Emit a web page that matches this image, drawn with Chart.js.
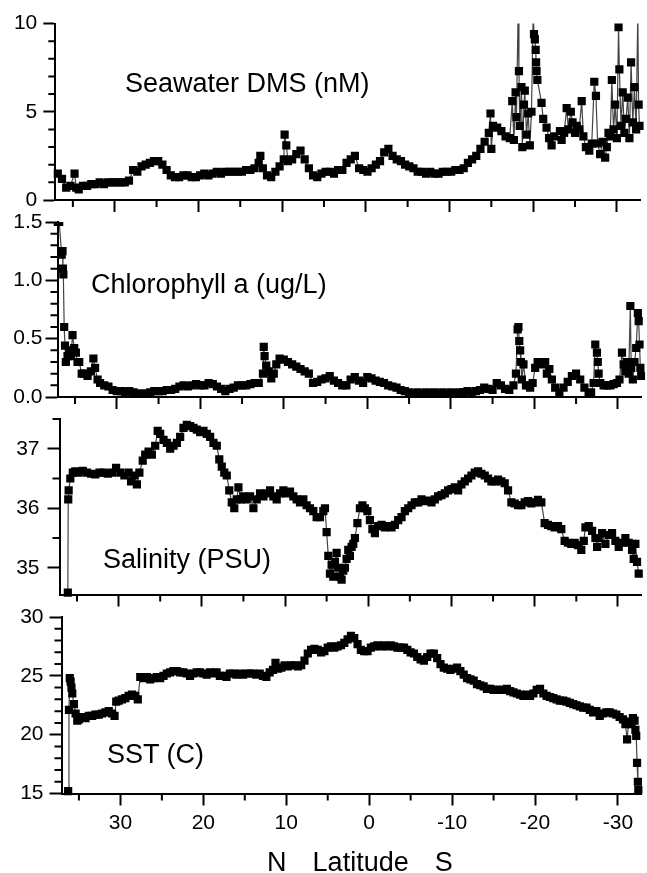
<!DOCTYPE html>
<html lang="en">
<head>
<meta charset="UTF-8">
<title>Seawater DMS, Chlorophyll a, Salinity and SST vs Latitude</title>
<style>
  body { margin: 0; background: #fff; overflow: hidden; }
  .wrap { position: relative; width: 647px; height: 873px; }
  .wrap canvas { position: absolute; left: 0; top: 0; }
  .label {
    position: absolute;
    font-family: 'Liberation Sans', Arial, sans-serif;
    font-size: 27px;
    line-height: 27px;
    color: #000;
    white-space: pre;
  }
</style>
</head>
<body>
<div class="wrap">
  <canvas id="dmsChart" width="647" height="873"></canvas>
  <canvas id="chlChart" width="647" height="873"></canvas>
  <canvas id="salChart" width="647" height="873"></canvas>
  <canvas id="sstChart" width="647" height="873"></canvas>
  <div class="label" style="left:125px; top:70px;">Seawater DMS (nM)</div>
  <div class="label" style="left:91px; top:271px;">Chlorophyll a (ug/L)</div>
  <div class="label" style="left:103px; top:546px;">Salinity (PSU)</div>
  <div class="label" style="left:107px; top:741px;">SST (C)</div>
  <div class="label" style="left:267px; top:849px; word-spacing:1.2px;">N   Latitude   S</div>
</div>

<script src="https://cdn.jsdelivr.net/npm/chart.js"></script>
<script>
    // latitude axis (N positive, S negative)
    const latMin = -32.8;
    const latMax = 37.1;
    const latTicks = [30, 20, 10, 0, -10, -20, -30];

    // Seawater DMS (nM)
    const dmsLat = [
        36.8, 36.3, 35.8, 35.3, 34.8, 34.6, 34.3, 33.8, 33.3, 32.8,
        32.3, 31.8, 31.3, 30.8, 30.3, 29.8, 29.3, 28.8, 28.3, 27.8,
        27.3, 26.8, 26.3, 25.8, 25.3, 24.8, 24.3, 23.8, 23.3, 22.8,
        22.3, 21.8, 21.3, 20.8, 20.3, 19.8, 19.3, 18.8, 18.3, 17.8,
        17.3, 16.8, 16.3, 15.8, 15.3, 14.8, 14.3, 13.8, 13.3, 12.8,
        12.6, 12.3, 11.8, 11.3, 10.8, 10.3, 9.8, 9.7, 9.5, 9.3,
        8.8, 8.3, 7.8, 7.3, 6.8, 6.3, 5.8, 5.3, 4.8, 4.3,
        3.8, 3.3, 2.8, 2.3, 1.8, 1.3, 0.8, 0.3, -0.2, -0.7,
        -1.2, -1.7, -2.2, -2.7, -3.2, -3.7, -4.2, -4.7, -5.2, -5.7,
        -6.2, -6.7, -7.2, -7.7, -8.2, -8.7, -9.2, -9.7, -10.2, -10.7,
        -11.2, -11.7, -12.2, -12.7, -13.2, -13.7, -14.2, -14.7, -14.9, -15.0,
        -15.2, -15.7, -16.2, -16.7, -17.2, -17.5, -17.7, -17.9, -18.0, -18.2,
        -18.3, -18.4, -18.6, -18.7, -18.9, -19.0, -19.2, -19.4, -19.6, -19.8,
        -20.0, -20.1, -20.2, -20.3, -20.35, -20.4, -20.5, -21.0, -21.2, -21.6,
        -21.9, -22.2, -22.5, -23.2, -23.4, -23.7, -24.0, -24.2, -24.5, -24.7,
        -25.0, -25.2, -25.5, -25.8, -26.0, -26.3, -26.7, -27.0, -27.3, -27.5,
        -27.7, -28.0, -28.3, -28.6, -28.8, -29.0, -29.2, -29.4, -29.6, -29.8,
        -30.0, -30.2, -30.3, -30.5, -30.7, -30.9, -31.1, -31.3, -31.5, -31.7,
        -31.9, -32.1, -32.3, -32.5, -32.6, -32.7
    ];
    const dmsVal = [
        1.5, 1.2, 0.7, 0.8, 1.5, 0.7, 0.6, 0.8, 0.8, 0.9,
        0.9, 1.0, 0.9, 1.0, 1.0, 1.0, 1.0, 1.0, 1.1, 1.7,
        1.6, 1.9, 2.0, 2.1, 2.2, 2.2, 2.0, 1.7, 1.4, 1.3,
        1.3, 1.4, 1.4, 1.3, 1.3, 1.4, 1.5, 1.4, 1.5, 1.6,
        1.5, 1.6, 1.6, 1.6, 1.6, 1.6, 1.7, 1.7, 1.8, 2.1,
        2.5, 1.8, 1.4, 1.3, 1.6, 1.9, 2.3, 3.7, 3.1, 2.2,
        2.3, 2.6, 2.8, 2.3, 1.8, 1.4, 1.3, 1.5, 1.6, 1.6,
        1.5, 1.7, 1.7, 2.1, 2.3, 2.5, 1.8, 1.7, 1.6, 1.8,
        2.0, 2.2, 2.7, 2.9, 2.5, 2.3, 2.2, 2.0, 1.9, 1.8,
        1.6, 1.6, 1.5, 1.6, 1.5, 1.5, 1.6, 1.6, 1.6, 1.7,
        1.7, 1.8, 2.1, 2.3, 2.5, 2.9, 3.3, 3.8, 4.9, 2.9,
        4.2, 4.1, 3.9, 3.6, 3.5, 5.6, 3.4, 6.1, 4.7, 10.6,
        7.3, 4.2, 6.4, 3.0, 5.4, 6.2, 3.7, 4.9, 3.1, 5.0,
        10.6, 9.4, 9.1, 8.5, 7.8, 7.3, 6.8, 5.5, 4.6, 4.1,
        3.5, 3.1, 3.6, 3.9, 3.4, 3.8, 5.2, 4.0, 5.0, 4.4,
        3.8, 4.2, 4.0, 5.6, 3.6, 3.0, 2.8, 3.2, 6.7, 5.9,
        3.2, 2.6, 3.3, 2.4, 3.0, 3.8, 3.6, 6.8, 4.0, 5.4,
        3.5, 9.8, 7.4, 4.2, 6.1, 3.8, 4.6, 5.8, 3.5, 7.8,
        4.4, 6.4, 4.0, 10.6, 5.4, 4.2
    ];

    // Chlorophyll a (ug/L)
    const chlLat = [
        37.1, 36.9, 36.6, 36.5, 36.45, 36.4, 36.3, 36.2, 36.1, 35.9,
        35.7, 35.5, 35.3, 35.1, 34.9, 34.7, 34.5, 34.2, 33.9, 33.5,
        33.1, 32.8, 32.6, 32.3, 32.0, 31.5, 31.0, 30.5, 30.0, 29.5,
        29.0, 28.5, 28.0, 27.5, 27.0, 26.5, 26.0, 25.5, 25.0, 24.5,
        24.0, 23.5, 23.0, 22.5, 22.0, 21.5, 21.0, 20.5, 20.0, 19.5,
        19.0, 18.5, 18.0, 17.5, 17.0, 16.5, 16.0, 15.5, 15.0, 14.5,
        14.0, 13.5, 13.0, 12.5, 12.4, 12.3, 12.1, 11.8, 11.5, 11.2,
        10.9, 10.5, 10.0, 9.5, 9.0, 8.5, 8.0, 7.5, 7.0, 6.5,
        6.0, 5.5, 5.0, 4.5, 4.0, 3.5, 3.0, 2.5, 2.0, 1.5,
        1.0, 0.5, 0.0, -0.5, -1.0, -1.5, -2.0, -2.5, -3.0, -3.5,
        -4.0, -4.5, -5.0, -5.5, -6.0, -6.5, -7.0, -7.5, -8.0, -8.5,
        -9.0, -9.5, -10.0, -10.5, -11.0, -11.5, -12.0, -12.5, -13.0, -13.5,
        -14.0, -14.5, -15.0, -15.5, -16.0, -16.5, -17.0, -17.5, -17.8, -18.0,
        -18.1, -18.2, -18.3, -18.4, -18.5, -18.7, -19.0, -19.3, -19.5, -19.8,
        -20.1, -20.4, -20.7, -21.0, -21.3, -21.5, -21.8, -22.1, -22.5, -23.0,
        -23.5, -24.0, -24.5, -25.0, -25.5, -26.0, -26.5, -26.8, -27.1, -27.3,
        -27.5, -27.6, -27.7, -27.9, -28.3, -28.7, -29.1, -29.5, -29.9, -30.2,
        -30.5, -30.7, -30.9, -31.1, -31.3, -31.5, -31.6, -31.8, -32.0, -32.2,
        -32.4, -32.5, -32.6, -32.7, -32.8
    ];
    const chlVal = [
        1.5, 1.5, 1.22, 1.25, 1.1, 1.05, 0.6, 0.44, 0.3, 0.35,
        0.4, 0.35, 0.53, 0.42, 0.38, 0.3, 0.3, 0.2, 0.2, 0.18,
        0.22, 0.33, 0.25, 0.15, 0.12, 0.1, 0.09, 0.06, 0.05, 0.05,
        0.04, 0.05, 0.04, 0.03, 0.03, 0.03, 0.04, 0.05, 0.05, 0.05,
        0.06, 0.06, 0.07, 0.09, 0.1, 0.09, 0.1, 0.11, 0.1, 0.1,
        0.12, 0.11, 0.09, 0.07, 0.05, 0.07, 0.08, 0.1, 0.1, 0.1,
        0.11, 0.12, 0.12, 0.2, 0.43, 0.35, 0.27, 0.22, 0.16, 0.2,
        0.28, 0.33, 0.32, 0.3, 0.28, 0.26, 0.24, 0.22, 0.2, 0.12,
        0.13, 0.15, 0.16, 0.18, 0.14, 0.12, 0.1, 0.1, 0.15, 0.17,
        0.14, 0.12, 0.17, 0.16, 0.14, 0.13, 0.12, 0.1, 0.09, 0.08,
        0.06, 0.05, 0.04, 0.03, 0.04, 0.03, 0.04, 0.03, 0.04, 0.03,
        0.04, 0.03, 0.04, 0.03, 0.04, 0.04, 0.05, 0.04, 0.05, 0.06,
        0.08, 0.07, 0.06, 0.12, 0.1, 0.07, 0.06, 0.1, 0.2, 0.58,
        0.6, 0.48, 0.4, 0.3, 0.15, 0.28, 0.1, 0.1, 0.08, 0.12,
        0.25, 0.3, 0.3, 0.28, 0.3, 0.2, 0.24, 0.15, 0.08, 0.04,
        0.08, 0.13, 0.18, 0.2, 0.15, 0.08, 0.03, 0.04, 0.12, 0.45,
        0.38, 0.3, 0.2, 0.12, 0.1, 0.1, 0.1, 0.11, 0.12, 0.15,
        0.38, 0.28, 0.22, 0.3, 0.2, 0.78, 0.25, 0.15, 0.3, 0.42,
        0.72, 0.65, 0.45, 0.25, 0.18
    ];

    // Salinity (PSU)
    const salLat = [
        36.1, 36.05, 36.0, 35.8, 35.5, 35.2, 34.8, 34.3, 33.8, 33.3,
        32.8, 32.3, 31.8, 31.3, 30.8, 30.3, 29.8, 29.3, 28.8, 28.5,
        28.1, 27.8, 27.5, 27.1, 26.8, 26.4, 26.0, 25.6, 25.3, 25.0,
        24.6, 24.2, 23.8, 23.4, 23.0, 22.6, 22.2, 21.8, 21.4, 21.0,
        20.6, 20.2, 19.8, 19.4, 19.0, 18.6, 18.2, 17.9, 17.6, 17.3,
        17.0, 16.7, 16.4, 16.1, 15.8, 15.6, 15.3, 15.0, 14.6, 14.2,
        13.8, 13.4, 13.0, 12.6, 12.2, 11.8, 11.4, 11.0, 10.6, 10.2,
        9.8, 9.4, 9.0, 8.6, 8.2, 7.8, 7.4, 7.0, 6.6, 6.2,
        5.8, 5.4, 5.2, 5.0, 4.8, 4.6, 4.4, 4.2, 4.0, 3.8,
        3.6, 3.4, 3.2, 3.0, 2.8, 2.6, 2.4, 2.2, 2.0, 1.8,
        1.6, 1.3, 1.0, 0.7, 0.4, 0.1, -0.2, -0.5, -0.8, -1.2,
        -1.6, -2.0, -2.4, -2.8, -3.2, -3.6, -4.0, -4.4, -4.8, -5.2,
        -5.6, -6.0, -6.4, -6.8, -7.2, -7.6, -8.0, -8.4, -8.8, -9.2,
        -9.6, -10.0, -10.4, -10.8, -11.2, -11.6, -12.0, -12.4, -12.8, -13.2,
        -13.6, -14.0, -14.4, -14.8, -15.2, -15.6, -16.0, -16.4, -16.8, -17.2,
        -17.6, -18.0, -18.4, -18.8, -19.2, -19.6, -20.0, -20.4, -20.8, -21.2,
        -21.6, -22.0, -22.4, -22.8, -23.2, -23.6, -24.0, -24.4, -24.8, -25.2,
        -25.6, -25.9, -26.1, -26.5, -26.9, -27.3, -27.5, -27.7, -28.1, -28.5,
        -28.9, -29.3, -29.7, -30.1, -30.5, -30.9, -31.3, -31.7, -31.9, -32.1,
        -32.3, -32.5
    ];
    const salVal = [
        34.58, 36.15, 36.3, 36.5, 36.6, 36.62, 36.6, 36.63, 36.6, 36.58,
        36.57, 36.6, 36.6, 36.58, 36.6, 36.68, 36.6, 36.55, 36.6, 36.45,
        36.55, 36.4, 36.6, 36.8, 36.9, 36.95, 36.9, 37.05, 37.3, 37.25,
        37.15, 37.1, 37.0, 37.05, 37.1, 37.2, 37.35, 37.4, 37.38, 37.35,
        37.32, 37.28, 37.3, 37.25, 37.2, 37.1, 37.05, 36.82, 36.7, 36.6,
        36.55, 36.3, 36.1, 36.0, 36.15, 36.35, 36.15, 36.2, 36.15, 36.2,
        36.0, 36.15, 36.25, 36.2, 36.25, 36.3, 36.2, 36.15, 36.25, 36.3,
        36.25, 36.28, 36.2, 36.15, 36.1, 36.15, 36.05, 36.0, 35.95, 35.85,
        35.85, 35.95, 36.0, 35.6, 35.2, 34.9, 35.05, 34.85, 35.1, 35.25,
        35.0, 34.85, 34.8, 34.95, 35.0, 35.15, 35.3, 35.2, 35.35, 35.4,
        35.5, 35.75, 36.0, 36.05, 36.0, 35.95, 35.8, 35.65, 35.58, 35.7,
        35.72, 35.68, 35.7, 35.68, 35.72, 35.8, 35.85, 35.95, 36.0, 36.05,
        36.1, 36.1, 36.15, 36.12, 36.13, 36.1, 36.15, 36.2, 36.22, 36.25,
        36.3, 36.32, 36.35, 36.3, 36.4, 36.45, 36.5, 36.55, 36.6, 36.62,
        36.58, 36.55, 36.5, 36.45, 36.45, 36.48, 36.45, 36.42, 36.3, 36.1,
        36.08, 36.05, 36.05, 36.1, 36.12, 36.08, 36.1, 36.14, 36.1, 35.75,
        35.72, 35.7, 35.68, 35.7, 35.65, 35.45, 35.42, 35.4, 35.42, 35.38,
        35.3, 35.45, 35.68, 35.7, 35.62, 35.5, 35.35, 35.5, 35.58, 35.4,
        35.55, 35.58, 35.45, 35.35, 35.42, 35.5, 35.42, 35.3, 35.15, 35.4,
        35.1, 34.9
    ];

    // SST (C)
    const sstLat = [
        36.3, 36.2, 36.1, 36.0, 35.9, 35.8, 35.6, 35.4, 35.2, 35.0,
        34.6, 34.2, 33.8, 33.4, 33.0, 32.6, 32.2, 31.8, 31.4, 31.0,
        30.7, 30.5, 30.2, 29.8, 29.4, 29.0, 28.6, 28.2, 27.9, 27.6,
        27.2, 26.8, 26.4, 26.0, 25.6, 25.2, 24.8, 24.4, 24.0, 23.6,
        23.2, 22.8, 22.4, 22.0, 21.6, 21.2, 20.8, 20.4, 20.0, 19.6,
        19.2, 18.8, 18.4, 18.0, 17.6, 17.2, 16.8, 16.4, 16.0, 15.6,
        15.2, 14.8, 14.4, 14.0, 13.6, 13.2, 12.8, 12.4, 12.0, 11.6,
        11.3, 11.0, 10.6, 10.2, 9.8, 9.4, 9.0, 8.6, 8.2, 7.8,
        7.4, 7.0, 6.6, 6.2, 5.8, 5.4, 5.0, 4.6, 4.2, 3.8,
        3.4, 3.0, 2.6, 2.2, 1.8, 1.4, 1.0, 0.6, 0.2, -0.2,
        -0.6, -1.0, -1.4, -1.8, -2.2, -2.6, -3.0, -3.4, -3.8, -4.2,
        -4.6, -5.0, -5.4, -5.8, -6.2, -6.6, -7.0, -7.4, -7.8, -8.2,
        -8.6, -9.0, -9.4, -9.8, -10.2, -10.6, -11.0, -11.4, -11.8, -12.2,
        -12.6, -13.0, -13.4, -13.8, -14.2, -14.6, -15.0, -15.4, -15.8, -16.2,
        -16.6, -17.0, -17.4, -17.8, -18.2, -18.6, -19.0, -19.4, -19.8, -20.2,
        -20.6, -21.0, -21.4, -21.8, -22.2, -22.6, -23.0, -23.4, -23.8, -24.2,
        -24.6, -25.0, -25.4, -25.8, -26.2, -26.6, -27.0, -27.4, -27.8, -28.2,
        -28.6, -29.0, -29.4, -29.8, -30.2, -30.6, -30.9, -31.1, -31.3, -31.6,
        -31.8, -32.0, -32.1, -32.2, -32.3, -32.4, -32.45
    ];
    const sstVal = [
        15.2, 22.1, 24.8, 24.5, 24.0, 23.5, 22.6, 21.8, 21.2, 21.3,
        21.5, 21.4, 21.6, 21.6, 21.7, 21.7, 21.8, 21.9, 22.0, 21.8,
        21.6, 22.8, 22.9, 23.0, 23.1, 23.3, 23.4, 23.3, 23.0, 24.9,
        24.8, 24.9, 24.7, 24.8, 24.9, 24.8, 25.0, 25.2, 25.3, 25.4,
        25.4, 25.3, 25.3, 25.2, 25.0, 25.2, 25.3, 25.3, 25.2, 25.1,
        25.3, 25.2, 25.3, 25.0, 25.0, 24.9, 25.2, 25.2, 25.1, 25.2,
        25.1, 25.2, 25.2, 25.2, 25.1, 25.2, 25.0, 24.9, 25.3, 25.5,
        26.1, 25.6, 25.7, 25.9, 25.8, 25.9, 25.9, 25.8, 25.9, 26.3,
        26.9, 27.2, 27.3, 27.2, 27.0, 27.1, 27.4, 27.5, 27.4, 27.5,
        27.6, 27.8, 28.1, 28.4, 28.2, 27.7, 27.2, 27.1, 27.1, 27.4,
        27.5, 27.6, 27.5, 27.6, 27.5, 27.6, 27.5, 27.4, 27.4, 27.4,
        27.2, 27.0, 26.9, 26.6, 26.4, 26.3, 26.6, 26.9, 26.9, 26.5,
        26.0, 25.7, 25.6, 25.5, 25.6, 25.7, 25.4, 25.1, 24.8, 24.7,
        24.6, 24.3, 24.2, 24.1, 23.9, 23.9, 23.8, 23.8, 23.8, 23.8,
        23.9, 23.7, 23.6, 23.5, 23.4, 23.3, 23.4, 23.3, 23.5, 23.8,
        23.9, 23.5, 23.3, 23.2, 23.1, 23.0, 22.9, 22.9, 22.8, 22.7,
        22.6, 22.5, 22.4, 22.3, 22.3, 22.1, 21.9, 22.0, 21.6, 21.8,
        21.9, 21.9, 21.8, 21.7, 21.5, 21.3, 20.9, 19.6, 21.1, 20.9,
        21.4, 21.2, 20.4, 19.9, 17.6, 16.0, 15.3
    ];

    Chart.defaults.font.family = "'Liberation Sans', Arial, sans-serif";
    Chart.defaults.font.size = 21;
    Chart.defaults.color = '#000';

    function eachMinor(scale, step, major, fn) {
        const lo = Math.min(scale.min, scale.max);
        const hi = Math.max(scale.min, scale.max);
        for (let i = Math.ceil(lo / step - 1e-6); i * step <= hi + 1e-6; i++) {
            const v = i * step;
            const r = v / major;
            if (Math.abs(r - Math.round(r)) < 1e-6) continue;
            fn(v);
        }
    }

    // Chart.js has no minor ticks, so draw them from the scales
    const minorTicks = {
        id: 'minorTicks',
        afterDraw(chart, args, opts) {
            const { ctx, chartArea } = chart;
            const xs = chart.scales.x;
            const ys = chart.scales.y;
            ctx.save();
            ctx.strokeStyle = '#000';
            ctx.lineWidth = 2;
            ctx.beginPath();
            eachMinor(xs, 5, 10, v => {
                const px = xs.getPixelForValue(v);
                ctx.moveTo(px, chartArea.bottom);
                ctx.lineTo(px, chartArea.bottom + 7);
            });
            eachMinor(ys, opts.yMinor, opts.yMajor, v => {
                const py = ys.getPixelForValue(v);
                ctx.moveTo(chartArea.left, py);
                ctx.lineTo(chartArea.left - 7, py);
            });
            ctx.stroke();
            ctx.restore();
        }
    };

    function makePanel(id, lat, val, yOpts, box) {
        const points = lat.map((x, i) => ({ x: x, y: val[i] }));
        return new Chart(document.getElementById(id), {
            type: 'scatter',
            data: {
                datasets: [{
                    data: points,
                    showLine: true,
                    borderColor: '#444',
                    borderWidth: 1.2,
                    pointStyle: 'rect',
                    pointRadius: 5.8,
                    pointBorderWidth: 0,
                    pointBackgroundColor: '#000',
                    clip: { left: 4, right: 4, top: 0, bottom: 4 }
                }]
            },
            options: {
                responsive: false,
                animation: false,
                events: [],
                layout: { padding: box.padding },
                plugins: {
                    legend: { display: false },
                    tooltip: { enabled: false },
                    minorTicks: { yMinor: yOpts.minor, yMajor: yOpts.step }
                },
                scales: {
                    x: {
                        type: 'linear',
                        reverse: true,
                        min: latMin,
                        max: latMax,
                        afterBuildTicks: s => { s.ticks = latTicks.map(v => ({ value: v })); },
                        afterFit: s => { s.height = box.xHeight; },
                        ticks: {
                            display: box.xLabels,
                            padding: 5,
                            maxRotation: 0,
                            callback: v => String(v)
                        },
                        grid: { drawOnChartArea: false, tickLength: 12, tickWidth: 2, tickColor: '#000' },
                        border: { color: '#000', width: 2 }
                    },
                    y: {
                        min: yOpts.min,
                        max: yOpts.max,
                        afterFit: s => { s.width = 50; },
                        ticks: {
                            stepSize: yOpts.step,
                            includeBounds: false,
                            padding: yOpts.pad,
                            callback: yOpts.fmt
                        },
                        grid: { drawOnChartArea: false, tickLength: 12, tickWidth: 2, tickColor: '#000' },
                        border: { color: '#000', width: 2 }
                    }
                }
            },
            plugins: [minorTicks]
        });
    }

    makePanel('dmsChart', dmsLat, dmsVal,
        { min: 0, max: 10, step: 5, minor: 1, pad: 6, fmt: v => String(v) },
        { padding: { left: 5.3, right: 6.7, top: 23.5, bottom: 659 }, xHeight: 14, xLabels: false });

    makePanel('chlChart', chlLat, chlVal,
        { min: 0, max: 1.5, step: 0.5, minor: 0.1, pad: 3, fmt: v => v.toFixed(1) },
        { padding: { left: 7.5, right: 4.5, top: 222, bottom: 462 }, xHeight: 14, xLabels: false });

    makePanel('salChart', salLat, salVal,
        { min: 34.55, max: 37.5, step: 1, minor: 0.5, pad: 8, fmt: v => String(v) },
        { padding: { left: 9.5, right: 2.5, top: 419, bottom: 264.5 }, xHeight: 14, xLabels: false });

    makePanel('sstChart', sstLat, sstVal,
        { min: 15, max: 30, step: 5, minor: 1, pad: 6, fmt: v => String(v) },
        { padding: { left: 11.5, right: 0.5, top: 617, bottom: 0 }, xHeight: 79.5, xLabels: true });
</script>
</body>
</html>
